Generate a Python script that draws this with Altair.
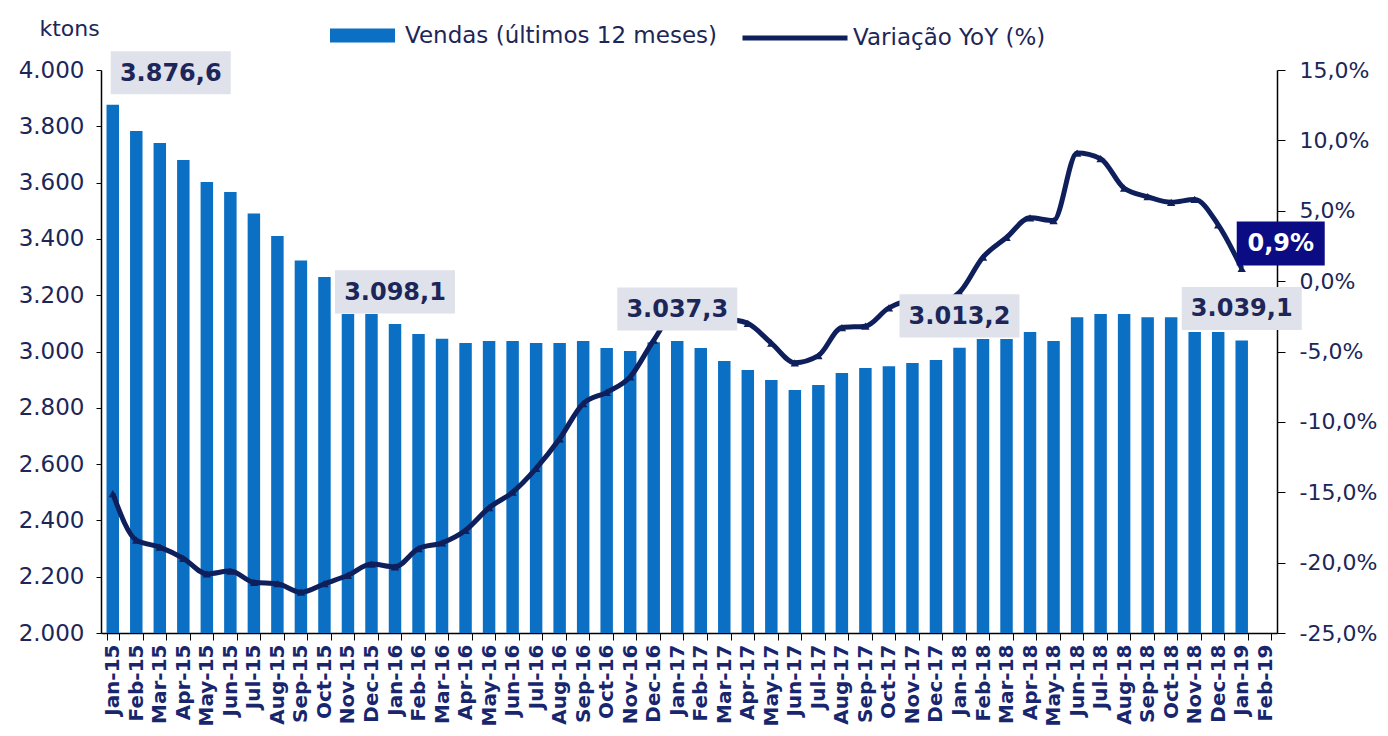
import altair as alt
import pandas as pd

# ---------------- data ----------------
months = [
    "Jan-15", "Feb-15", "Mar-15", "Apr-15", "May-15", "Jun-15", "Jul-15", "Aug-15", "Sep-15", "Oct-15", "Nov-15", "Dec-15",
    "Jan-16", "Feb-16", "Mar-16", "Apr-16", "May-16", "Jun-16", "Jul-16", "Aug-16", "Sep-16", "Oct-16", "Nov-16", "Dec-16",
    "Jan-17", "Feb-17", "Mar-17", "Apr-17", "May-17", "Jun-17", "Jul-17", "Aug-17", "Sep-17", "Oct-17", "Nov-17", "Dec-17",
    "Jan-18", "Feb-18", "Mar-18", "Apr-18", "May-18", "Jun-18", "Jul-18", "Aug-18", "Sep-18", "Oct-18", "Nov-18", "Dec-18",
    "Jan-19", "Feb-19",
]

vendas = [
    3876.6, 3783, 3741, 3680, 3602, 3567, 3490, 3410, 3323, 3265, 3133, 3133,
    3098.1, 3062, 3045, 3030, 3037, 3037, 3030, 3030, 3037, 3012, 3002, 3033,
    3037.3, 3012, 2966, 2934, 2899, 2863, 2881, 2924, 2941, 2948, 2959, 2970,
    3013.2, 3044, 3044, 3069, 3037, 3122, 3133, 3133, 3122, 3122, 3069, 3069,
    3039.1,
]

yoy = [
    -15.1, -18.4, -18.9, -19.7, -20.8, -20.6, -21.4, -21.5, -22.1, -21.5, -20.9, -20.1,
    -20.3, -19.0, -18.6, -17.7, -16.1, -15.0, -13.3, -11.2, -8.7, -7.9, -6.8, -4.2,
    -2.0, -1.8, -2.6, -3.0, -4.4, -5.8, -5.3, -3.3, -3.2, -1.9, -1.4, -1.6,
    -0.8, 1.7, 3.1, 4.5, 4.3, 9.1, 8.7, 6.6, 6.0, 5.6, 5.8, 4.0,
    0.9,
]

label_months = ["Jan-15", "Jan-16", "Jan-17", "Jan-18", "Jan-19"]
label_texts = ["3.876,6", "3.098,1", "3.037,3", "3.013,2", "3.039,1"]
last_month = "Jan-19"
last_label = "0,9%"

left_ticks = [2000, 2200, 2400, 2600, 2800, 3000, 3200, 3400, 3600, 3800, 4000]
right_ticks = [-25, -20, -15, -10, -5, 0, 5, 10, 15]

serie_bar = "Vendas (últimos 12 meses)"
serie_line = "Variação YoY (%)"

# ---------------- table ----------------
n = len(vendas)
lab_map = dict(zip(label_months, label_texts))
df = pd.DataFrame({
    "month": months[:n],
    "vendas": vendas,
    "yoy": yoy,
    "label": [lab_map.get(m, "") for m in months[:n]],
    "pct_label": [last_label if m == last_month else "" for m in months[:n]],
    "sb": serie_bar,
    "sl": serie_line,
})

# ---------------- style ----------------
FONT = "DejaVu Sans"
TXT = "#1c2658"
BAR = "#0b6fc3"
LINE = "#0f1f5c"
BOX = "#dfe2ea"
BOX2 = "#0b0b84"

xenc = alt.X(
    "month:N",
    scale=alt.Scale(domain=months, paddingInner=0.47, paddingOuter=0.235),
    axis=alt.Axis(
        title=None, labelAngle=-90, labelFont=FONT, labelFontWeight="bold",
        labelFontSize=20, labelColor="#18266e", tickBand="extent", tickSize=7,
        tickColor="#000000", domainColor="#000000", domainWidth=1.5, labelPadding=4,
        labelOverlap=False, grid=False,
    ),
)

left_scale = alt.Scale(domain=[2000, 4000], nice=False, zero=False)
right_scale = alt.Scale(domain=[-25, 15], nice=False, zero=False)

base = alt.Chart(df)

bars = base.mark_bar(clip=True).encode(
    x=xenc,
    y=alt.Y(
        "vendas:Q", scale=left_scale,
        axis=alt.Axis(
            orient="left", values=left_ticks, grid=False,
            labelExpr="replace(format(datum.value, ',d'), ',', '.')",
            labelFont=FONT, labelFontSize=23, labelColor=TXT, labelPadding=12,
            tickSize=5, tickColor="#000000", domainColor="#000000", domainWidth=1.5,
            title="ktons", titleAngle=0, titleX=-32, titleY=-42, titleAlign="center",
            titleBaseline="middle", titleFont=FONT, titleFontSize=22,
            titleFontWeight="normal", titleColor=TXT,
        ),
    ),
    fill=alt.Fill(
        "sb:N", scale=alt.Scale(domain=[serie_bar], range=[BAR]),
        legend=alt.Legend(
            title=None, orient="none", legendX=229, legendY=-67,
            symbolType="M-1,-0.215H1V0.215H-1Z", symbolSize=4225, symbolStrokeWidth=0,
            labelFont=FONT, labelFontSize=23, labelColor=TXT, labelOffset=10,
            padding=0, labelLimit=0,
        ),
    ),
)

line = base.mark_line(interpolate="monotone", strokeWidth=5).encode(
    x=xenc,
    y=alt.Y(
        "yoy:Q", scale=right_scale,
        axis=alt.Axis(
            orient="right", values=right_ticks, grid=False, title=None,
            labelExpr="replace(replace(format(datum.value, '.1f'), '.', ','), '\u2212', '-') + '%'",
            labelFont=FONT, labelFontSize=22, labelColor=TXT, labelPadding=14,
            tickSize=8, tickColor="#000000", domainColor="#000000", domainWidth=1.5,
        ),
    ),
    stroke=alt.Stroke(
        "sl:N", scale=alt.Scale(domain=[serie_line], range=[LINE]),
        legend=alt.Legend(
            title=None, orient="none", legendX=639, legendY=-87,
            symbolType="stroke", symbolSize=11025, symbolStrokeWidth=5,
            labelFont=FONT, labelFontSize=23, labelColor=TXT, labelOffset=3,
            padding=0, labelLimit=0,
        ),
    ),
)

points = base.mark_point(shape="triangle-up", filled=True, size=70, opacity=1, color=LINE).encode(
    x=xenc,
    y=alt.Y("yoy:Q", scale=right_scale, axis=None),
)

lab = base.transform_filter("datum.label != ''")
first_m = label_months[0]

box_first = lab.transform_filter(alt.datum.month == first_m).mark_point(
    shape="M-1,-0.36H1V0.36H-1Z", size=120 * 120, filled=True, opacity=1,
    color=BOX, strokeWidth=0, xOffset=58, yOffset=-32,
).encode(x=xenc, y=alt.Y("vendas:Q", scale=left_scale, axis=None))

box_rest = lab.transform_filter(alt.datum.month != first_m).mark_point(
    shape="M-1,-0.36H1V0.36H-1Z", size=120 * 120, filled=True, opacity=1,
    color=BOX, strokeWidth=0, yOffset=-32,
).encode(x=xenc, y=alt.Y("vendas:Q", scale=left_scale, axis=None))

text_first = lab.transform_filter(alt.datum.month == first_m).mark_text(
    font=FONT, fontWeight="bold", fontSize=24, color=TXT, align="center",
    baseline="middle", xOffset=58, yOffset=-31,
).encode(x=xenc, y=alt.Y("vendas:Q", scale=left_scale, axis=None), text="label:N")

text_rest = lab.transform_filter(alt.datum.month != first_m).mark_text(
    font=FONT, fontWeight="bold", fontSize=24, color=TXT, align="center",
    baseline="middle", yOffset=-31,
).encode(x=xenc, y=alt.Y("vendas:Q", scale=left_scale, axis=None), text="label:N")

pct = base.transform_filter("datum.pct_label != ''")
box_pct = pct.mark_point(
    shape="M-1,-0.5H1V0.5H-1Z", size=88 * 88, filled=True, opacity=1,
    color=BOX2, strokeWidth=0, xOffset=39, yOffset=-25,
).encode(x=xenc, y=alt.Y("yoy:Q", scale=right_scale, axis=None))

text_pct = pct.mark_text(
    font=FONT, fontWeight="bold", fontSize=24, color="#ffffff", align="center",
    baseline="middle", xOffset=39, yOffset=-24,
).encode(x=xenc, y=alt.Y("yoy:Q", scale=right_scale, axis=None), text="pct_label:N")

chart = alt.layer(
    bars, line, points, box_first, box_rest, text_first, text_rest, box_pct, text_pct
).resolve_scale(
    y="independent"
).properties(
    width=1176, height=563,
    background="#ffffff",
    autosize=alt.AutoSizeParams(type="none"),
    padding={"left": 93, "top": 62, "right": 100, "bottom": 95},
).configure_view(stroke=None)

chart.save("out.html", embed_options={"renderer": "svg", "actions": False})
